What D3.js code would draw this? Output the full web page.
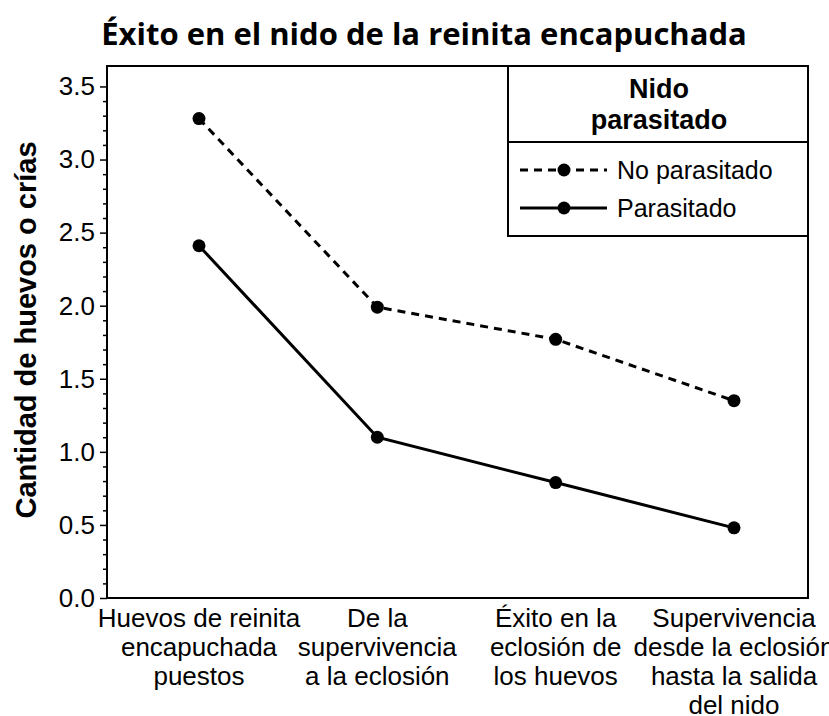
<!DOCTYPE html>
<html>
<head>
<meta charset="utf-8">
<script src="https://cdn.jsdelivr.net/npm/d3@7"></script>
<style>
  body { margin: 0; background: #fff; }
  svg { display: block; }
  text { fill: #000; }
</style>
</head>
<body>
<svg id="chart" width="829" height="716"></svg>
<script>
const stages = [
  ['Huevos de reinita', 'encapuchada', 'puestos'],
  ['De la', 'supervivencia', 'a la eclosión'],
  ['Éxito en la', 'eclosión de', 'los huevos'],
  ['Supervivencia', 'desde la eclosión', 'hasta la salida', 'del nido']
];
const noParasitado = [3.28, 1.99, 1.77, 1.35];
const parasitado = [2.41, 1.10, 0.79, 0.48];
const yTicks = [0, 0.5, 1.0, 1.5, 2.0, 2.5, 3.0, 3.5];

const svg = d3.select('#chart');
const plotL = 107, plotR = 808, plotT = 66, plotB = 598;
const sans = '"Liberation Sans", Arial, sans-serif';

const x = d3.scalePoint().domain(d3.range(stages.length)).range([199, 734]);
const y = d3.scaleLinear().domain([0, 3.64]).range([plotB, plotT]);

// title
svg.append('text')
  .attr('x', 424).attr('y', 45)
  .attr('text-anchor', 'middle')
  .style('font-family', '"Open Sans", "Noto Sans", sans-serif')
  .style('font-weight', 'bold')
  .style('font-size', '31px')
  .text('Éxito en el nido de la reinita encapuchada');

// frame
svg.append('rect')
  .attr('x', plotL).attr('y', plotT)
  .attr('width', plotR - plotL).attr('height', plotB - plotT)
  .attr('fill', 'none').attr('stroke', '#000').attr('stroke-width', 2);

// y axis: minor ticks
const minor = d3.range(0, 36).map(i => i / 10).filter(v => Math.abs(v * 2 - Math.round(v * 2)) > 1e-6);
svg.append('g')
  .attr('transform', `translate(${plotL},0)`)
  .call(d3.axisLeft(y).tickValues(minor).tickSize(4).tickFormat(''))
  .call(g => g.select('.domain').remove())
  .selectAll('line').attr('stroke-width', 1.5);

const yAxis = svg.append('g')
  .attr('transform', `translate(${plotL},0)`)
  .call(d3.axisLeft(y).tickValues(yTicks).tickSize(7).tickPadding(5).tickFormat(d3.format('.1f')));
yAxis.select('.domain').remove();
yAxis.selectAll('line').attr('stroke-width', 1.5);
yAxis.selectAll('text')
  .style('font-family', sans)
  .style('font-size', '26px');

// y title
svg.append('text')
  .attr('transform', 'translate(36,330) rotate(-90)')
  .attr('text-anchor', 'middle')
  .style('font-family', sans)
  .style('font-weight', 'bold')
  .style('font-size', '29px')
  .text('Cantidad de huevos o crías');

// x labels
const xl = svg.append('g');
stages.forEach((lines, i) => {
  const t = xl.append('text')
    .attr('text-anchor', 'middle')
    .style('font-family', sans)
    .style('font-size', '26px');
  lines.forEach((s, j) => {
    t.append('tspan').attr('x', x(i)).attr('y', 627 + j * 29).text(s);
  });
});

// lines
const line = d3.line().x((d, i) => x(i)).y(d => y(d));
const series = [
  {name: 'No parasitado', values: noParasitado, dash: '8,6'},
  {name: 'Parasitado', values: parasitado, dash: null}
];
series.forEach(s => {
  svg.append('path')
    .datum(s.values)
    .attr('d', line)
    .attr('fill', 'none')
    .attr('stroke', '#000')
    .attr('stroke-width', 3)
    .attr('stroke-dasharray', s.dash);
  svg.selectAll(null)
    .data(s.values)
    .enter().append('circle')
    .attr('cx', (d, i) => x(i))
    .attr('cy', d => y(d))
    .attr('r', 6.5)
    .attr('fill', '#000');
});

// legend
const lg = svg.append('g');
lg.append('rect')
  .attr('x', 508).attr('y', plotT)
  .attr('width', plotR - 508).attr('height', 236 - plotT)
  .attr('fill', '#fff').attr('stroke', '#000').attr('stroke-width', 2);
lg.append('line')
  .attr('x1', 508).attr('x2', plotR)
  .attr('y1', 142).attr('y2', 142)
  .attr('stroke', '#000').attr('stroke-width', 2);
const head = lg.append('text')
  .attr('text-anchor', 'middle')
  .style('font-family', sans)
  .style('font-weight', 'bold')
  .style('font-size', '27px');
head.append('tspan').attr('x', 659).attr('y', 98).text('Nido');
head.append('tspan').attr('x', 659).attr('y', 129).text('parasitado');

series.forEach((s, i) => {
  const cy = 170 + i * 38;
  lg.append('line')
    .attr('x1', 520).attr('x2', 607)
    .attr('y1', cy).attr('y2', cy)
    .attr('stroke', '#000').attr('stroke-width', 3)
    .attr('stroke-dasharray', s.dash);
  lg.append('circle')
    .attr('cx', 564).attr('cy', cy).attr('r', 6.5).attr('fill', '#000');
  lg.append('text')
    .attr('x', 617).attr('y', cy + 9)
    .style('font-family', sans)
    .style('font-size', '25px')
    .text(s.name);
});
</script>
</body>
</html>
